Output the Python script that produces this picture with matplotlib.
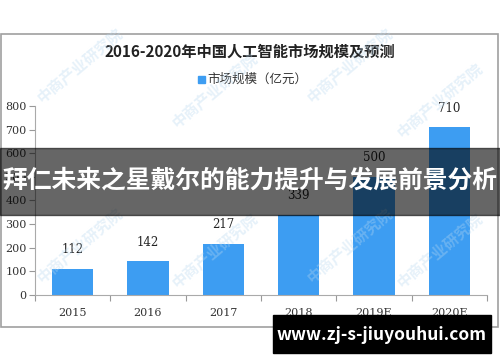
import matplotlib
matplotlib.use('Agg')
import matplotlib.pyplot as plt
from matplotlib.patches import Rectangle

plt.rcParams['font.family'] = ['Noto Sans CJK SC', 'DejaVu Sans']

years = ['2015', '2016', '2017', '2018', '2019E', '2020E']
market_size = [112, 142, 217, 339, 500, 710]
y_ticks = [0, 100, 200, 300, 400, 500, 600, 700, 800]

title = '2016-2020年中国人工智能市场规模及预测'
legend_label = '市场规模（亿元）'
banner_text = '拜仁未来之星戴尔的能力提升与发展前景分析'
site_text = 'www.zj-s-jiuyouhui.com'
watermark = '中商产业研究院'

W, H = 500, 362
fig = plt.figure(figsize=(W / 100, H / 100), dpi=100)

# outer frame of the original picture
fig.patches.append(Rectangle((1 / W, 1 - 327 / H), 497 / W, 293 / H, transform=fig.transFigure,
                             fill=False, edgecolor='#a0a0a0', linewidth=1.2))

ax = fig.add_axes([35 / W, 1 - 295 / H, 452 / W, 189 / H])
x = range(len(years))
bars = ax.bar(x, market_size, width=0.55, color='#3d9df2', zorder=2)
for xi, v in zip(x, market_size):
    ax.annotate(str(v), (xi, v), xytext=(0, 9), textcoords='offset points',
                ha='center', va='bottom', fontsize=8.5, color='#222222',
                family='DejaVu Serif')

ax.set_xlim(-0.5, len(years) - 0.5)
ax.set_ylim(0, 800)
ax.set_yticks(y_ticks)
ax.set_yticklabels([str(t) for t in y_ticks], family='DejaVu Serif', fontsize=8, color='#333333')
ax.set_xticks([i + 0.5 for i in range(-1, len(years))], minor=False)
ax.set_xticklabels([''] * (len(years) + 1))
ax.set_xticks(list(x), minor=True)
ax.set_xticklabels(years, minor=True, family='DejaVu Serif', fontsize=8, color='#333333')
ax.tick_params(axis='x', which='minor', length=0, pad=9)
ax.tick_params(axis='x', which='major', length=4, color='#999999')
ax.tick_params(axis='y', length=4, color='#999999', pad=2)
for s in ['top', 'right']:
    ax.spines[s].set_visible(False)
for s in ['left', 'bottom']:
    ax.spines[s].set_color('#aaaaaa')

fig.text(0.5, 1 - 52 / H, title, ha='center', va='center', fontsize=11,
         fontweight='bold', color='#222222')
fig.patches.append(Rectangle((198 / W, 1 - 83 / H), 7 / W, 7 / H, transform=fig.transFigure,
                             color='#3d9df2'))
fig.text(207 / W, 1 - 79 / H, legend_label, ha='left', va='center', fontsize=9, color='#333333')

# faint watermarks
for wx, wy in [(80, 65), (215, 90), (350, 65), (440, 100), (80, 245), (215, 250),
               (350, 245), (440, 250)]:
    fig.text(wx / W, 1 - wy / H, watermark, rotation=40, ha='center', va='center',
             fontsize=11, fontweight='bold', color='#b8d8f0', alpha=0.35)

# dark banner across the middle
fig.patches.append(Rectangle((0, 1 - 215 / H), 1, 67 / H, transform=fig.transFigure,
                             color='black', alpha=0.6, zorder=5))
fig.text(0.5, 1 - 181 / H, banner_text, ha='center', va='center', fontsize=17.8,
         fontweight='bold', color='white', zorder=6)

# site label box at the bottom
fig.patches.append(Rectangle((273 / W, 1 - 353 / H), 218 / W, 38 / H, transform=fig.transFigure,
                             color='black', zorder=5))
fig.text(382 / W, 1 - 335 / H, site_text, ha='center', va='center', fontsize=12.5,
         fontweight='bold', color='white', zorder=6)

fig.savefig('out.png', dpi=100)
